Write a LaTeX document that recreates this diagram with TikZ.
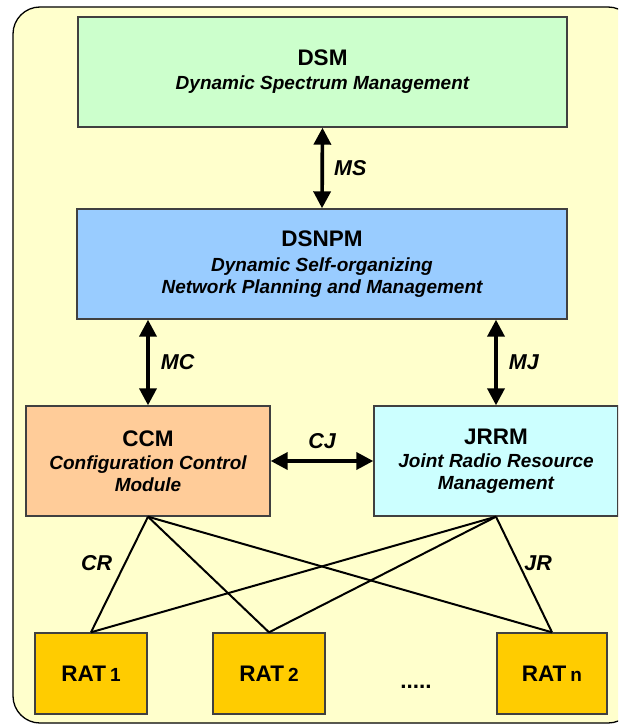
\documentclass[tikz,border=0pt]{standalone}
\usepackage{fontspec}
\setmainfont{Liberation Sans}
\usetikzlibrary{arrows.meta}
\definecolor{panel}{HTML}{FFFFCC}
\definecolor{dsmfill}{HTML}{CCFFCC}
\definecolor{npmfill}{HTML}{99CCFF}
\definecolor{ccmfill}{HTML}{FFCC99}
\definecolor{jrrmfill}{HTML}{CCFFFF}
\definecolor{ratfill}{HTML}{FFCC00}
\definecolor{boxline}{HTML}{404040}
\newcommand\titlef{\fontsize{22.5}{25}\selectfont\bfseries\upshape}
\newcommand\subf{\fontsize{19}{22}\selectfont\bfseries\itshape}
\newcommand\labf{\fontsize{21.5}{24}\selectfont\bfseries\itshape}
\newcommand\numf{\fontsize{19}{22}\selectfont\bfseries\upshape}
\begin{document}
\begin{tikzpicture}[x=1pt,y=-1pt,
  block/.style={draw=boxline, line width=1.4pt, align=center, inner sep=0pt,
    minimum width=244pt, minimum height=110pt, font=\subf},
  ratbox/.style={draw=boxline, line width=1.4pt, inner sep=0pt, fill=ratfill,
    minimum width=112pt, minimum height=81pt, font=\titlef},
  link/.style={line width=3.7pt,
    {Triangle[length=17pt,width=17pt]}-{Triangle[length=17pt,width=17pt]}},
  wire/.style={line width=2pt, line join=round},
  lab/.style={font=\labf, inner sep=0pt}]
\useasboundingbox (0,0) rectangle (618,725);
\clip (0,0) rectangle (618,725);
% background panel
\draw[line width=1.3pt, fill=panel, rounded corners=27pt] (13,7) rectangle (635,723);
% management blocks
\node[block, fill=dsmfill, minimum width=489pt] (dsm) at (322.5,72)
  {{\titlef DSM}\\[2pt]Dynamic Spectrum Management};
\node[block, fill=npmfill, minimum width=490pt] (dsnpm) at (322,264)
  {{\titlef DSNPM}\\[3pt]Dynamic Self-organizing\\Network Planning and Management};
\node[block, fill=ccmfill] (ccm) at (148,461)
  {{\titlef CCM}\\[1pt]Configuration Control\\Module};
\node[block, fill=jrrmfill] (jrrm) at (496,461)
  {{\titlef JRRM}\\[1pt]Joint Radio Resource\\Management};
% radio access technologies
\node[ratbox] (rat1) at (91,673.5) {RAT\hspace{4pt}{\numf 1}};
\node[ratbox] (rat2) at (269,673.5) {RAT\hspace{4pt}{\numf 2}};
\node[ratbox, minimum width=110pt] (ratn) at (552,673.5) {RAT\hspace{4pt}{\numf n}};
\node[font=\titlef, inner sep=0pt, anchor=base] (dots) at (416,688) {.....};
% interfaces between blocks
\draw[link] (dsm.south) -- (dsnpm.north) node[midway, right=10pt, lab] (ms) {MS};
\draw[link] (dsnpm.south -| ccm.north) -- (ccm.north) node[midway, right=11pt, lab] (mc) {MC};
\draw[link] (dsnpm.south -| jrrm.north) -- (jrrm.north) node[midway, right=11pt, lab] (mj) {MJ};
\draw[link] (ccm.east) -- (jrrm.west) node[midway, above=10pt, lab] (cj) {CJ};
% control lines to the RATs
\draw[wire] (ccm.south) -- (rat1.north) node[pos=0.4, left=12pt, lab] (cr) {CR};
\draw[wire] (ccm.south) -- (rat2.north);
\draw[wire] (ccm.south) -- (ratn.north);
\draw[wire] (jrrm.south) -- (rat1.north);
\draw[wire] (jrrm.south) -- (rat2.north);
\draw[wire] (jrrm.south) -- (ratn.north) node[pos=0.4, right=5pt, lab] (jr) {JR};
\end{tikzpicture}
\end{document}
